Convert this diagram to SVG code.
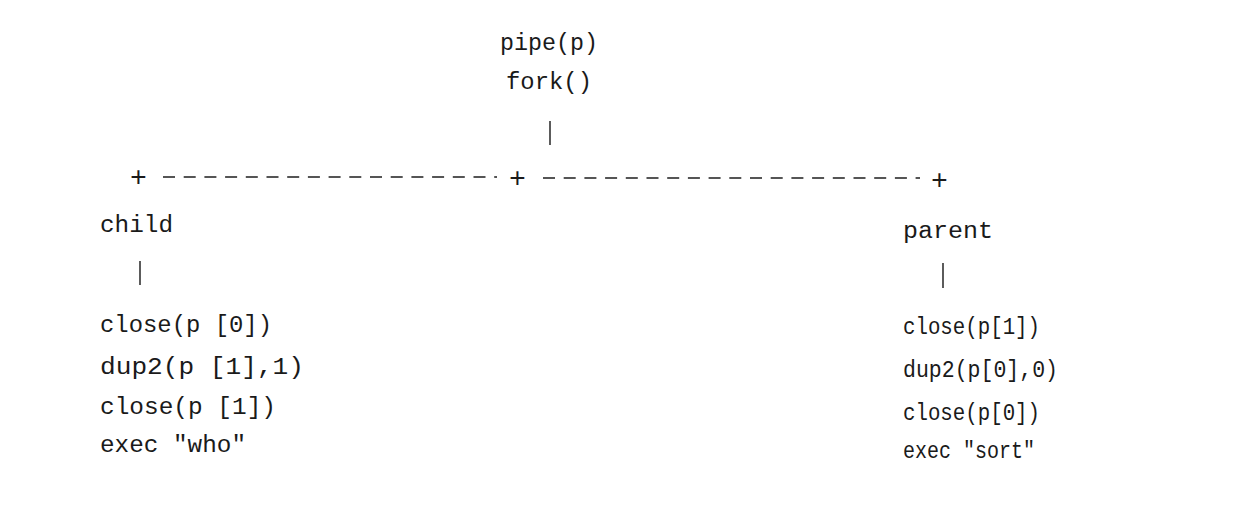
<svg xmlns="http://www.w3.org/2000/svg" width="1254" height="506" viewBox="0 0 1254 506">
<style>
text{font-family:"Liberation Mono","DejaVu Sans Mono",monospace;font-size:23px;fill:#1a1a1a}
.plus{font-size:28px}
.bar{stroke:#333;stroke-width:1.6}
.dash{stroke:#555;stroke-width:2;stroke-dasharray:12 8.7}
</style>
<rect width="1254" height="506" fill="#fff"/>
<g id="top">
<text x="500" y="50" textLength="98" lengthAdjust="spacingAndGlyphs">pipe(p)</text>
<text x="506" y="89" textLength="86" lengthAdjust="spacingAndGlyphs">fork()</text>
</g>
<g id="connectors">
<line class="bar" x1="550" y1="121" x2="550" y2="145"/>
<line class="dash" x1="163" y1="177" x2="497" y2="177"/>
<line class="dash" x1="543" y1="178" x2="920" y2="178"/>
<line class="bar" x1="140" y1="261" x2="140" y2="285"/>
<line class="bar" x1="943" y1="263" x2="943" y2="288"/>
</g>
<g id="junctions">
<text class="plus" x="130" y="186">+</text>
<text class="plus" x="509" y="187">+</text>
<text class="plus" x="931" y="189">+</text>
</g>
<g id="child">
<text x="100" y="232" textLength="73" lengthAdjust="spacingAndGlyphs">child</text>
<text x="100" y="332" textLength="172" lengthAdjust="spacingAndGlyphs">close(p [0])</text>
<text x="100" y="374" textLength="204" lengthAdjust="spacingAndGlyphs">dup2(p [1],1)</text>
<text x="100" y="414" textLength="176" lengthAdjust="spacingAndGlyphs">close(p [1])</text>
<text x="100" y="452" textLength="146" lengthAdjust="spacingAndGlyphs">exec "who"</text>
</g>
<g id="parent">
<text x="903" y="238" textLength="90" lengthAdjust="spacingAndGlyphs">parent</text>
<text x="903" y="334" textLength="137" lengthAdjust="spacingAndGlyphs">close(p[1])</text>
<text x="903" y="377" textLength="155" lengthAdjust="spacingAndGlyphs">dup2(p[0],0)</text>
<text x="903" y="420" textLength="137" lengthAdjust="spacingAndGlyphs">close(p[0])</text>
<text x="903" y="458" textLength="132" lengthAdjust="spacingAndGlyphs">exec "sort"</text>
</g>
</svg>
